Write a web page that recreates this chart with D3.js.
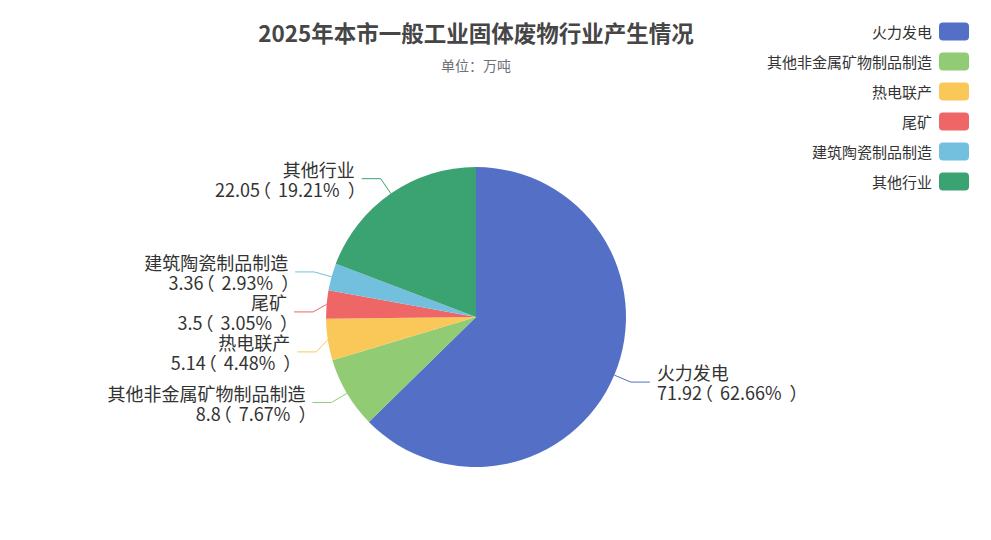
<!DOCTYPE html>
<html>
<head>
<meta charset="utf-8">
<script src="https://cdn.jsdelivr.net/npm/d3@7"></script>
<style>
  html, body { margin: 0; padding: 0; background: #fff; }
  svg { display: block; font-family: "Noto Sans CJK SC", "Noto Sans", sans-serif; }
</style>
</head>
<body>
<svg id="chart" width="991" height="540"></svg>
<script>
// ---- data ----
const titleText = "2025年本市一般工业固体废物行业产生情况";
const subtitleText = "单位：万吨";
const categories = ["火力发电", "其他非金属矿物制品制造", "热电联产", "尾矿", "建筑陶瓷制品制造", "其他行业"];
const values = [71.92, 8.8, 5.14, 3.5, 3.36, 22.05];
const palette = ["#5470c6", "#91cc75", "#fac858", "#ee6666", "#73c0de", "#3ba272"];

// ---- layout ----
const W = 991, H = 540;
const cx = 476, cy = 317, R = 150;
const len1 = 18, len2 = 19, textGap = 7, minGap = 40;
const labelR = 187;           // circle used to re-place shifted labels
const FONT = "'Noto Sans CJK SC', 'Noto Sans', sans-serif";
const LFS = 18;

const svg = d3.select("#chart");
const color = d3.scaleOrdinal().domain(categories).range(palette);
const total = d3.sum(values);
const data = categories.map((c, i) => ({ name: c, value: values[i], pct: (values[i] / total * 100).toFixed(2) }));

// glyph metrics of the full-width brackets (to space them evenly)
const ctx = document.createElement("canvas").getContext("2d");
ctx.font = `${LFS}px ${FONT}`;
function ink(ch) {
  const m = ctx.measureText(ch);
  return { l: -m.actualBoundingBoxLeft, r: m.actualBoundingBoxRight, adv: m.width };
}
const po = ink("（"), pc = ink("）");
const dxOpen = 5 - po.l;
const dxPct = 7 - (po.adv - po.r);
const dxClose = 8 - pc.l;
const trailClose = pc.adv - pc.r;

// title
svg.append("text").attr("x", cx).attr("y", 32).attr("text-anchor", "middle")
  .attr("dominant-baseline", "central").attr("font-size", 22.5).attr("font-weight", "bold")
  .attr("fill", "#464646").text(titleText);
svg.append("text").attr("x", cx).attr("y", 65).attr("text-anchor", "middle")
  .attr("dominant-baseline", "central").attr("font-size", 14)
  .attr("fill", "#6e7079").text(subtitleText);

// pie
const pie = d3.pie().value(d => d.value).sort(null);
const arcs = pie(data);
const arc = d3.arc().innerRadius(0).outerRadius(R);
const edgeArc = d3.arc().innerRadius(R).outerRadius(R);
const outArc = d3.arc().innerRadius(R + len1).outerRadius(R + len1);

const g = svg.append("g").attr("transform", `translate(${cx},${cy})`);
g.selectAll("path.slice").data(arcs).join("path")
  .attr("class", "slice")
  .attr("d", arc)
  .attr("fill", d => color(d.data.name));

// label layout
const labels = arcs.map(d => {
  const s = edgeArc.centroid(d);
  const b = outArc.centroid(d);
  const mid = (d.startAngle + d.endAngle) / 2;
  const right = Math.sin(mid) >= 0;
  return { d, start: s, bend: [b[0], b[1]], y: b[1], right, shifted: false };
});
[true, false].forEach(side => {
  const group = labels.filter(l => l.right === side).sort((a, b) => a.y - b.y);
  for (let i = 1; i < group.length; i++) {
    if (group[i].y - group[i - 1].y < minGap) { group[i].y = group[i - 1].y + minGap; group[i].shifted = true; }
  }
});
labels.forEach(l => {
  const sgn = l.right ? 1 : -1;
  if (l.shifted) {
    const dx = Math.sqrt(Math.max(labelR * labelR - l.y * l.y, 0)) + 2;
    l.tx = sgn * dx;
    l.end = [l.tx - sgn * textGap, l.y];
    l.bend = [l.end[0] - sgn * len2, l.y];
  } else {
    l.bend[1] = l.y;
    l.end = [l.bend[0] + sgn * len2, l.y];
    l.tx = l.end[0] + sgn * textGap;
  }
});

g.selectAll("polyline.lline").data(labels).join("polyline")
  .attr("class", "lline")
  .attr("points", l => [l.start, l.bend, l.end].map(p => p.join(",")).join(" "))
  .attr("fill", "none")
  .attr("stroke", l => color(l.d.data.name))
  .attr("stroke-width", 1);

function line2Text(l) { return `${l.d.data.value}（${l.d.data.pct}%）`; }
function line2Dx(l) {
  const chars = Array.from(line2Text(l));
  return chars.map((ch, i) => ch === "（" ? dxOpen
    : (i > 0 && chars[i - 1] === "（") ? dxPct
    : ch === "）" ? dxClose : 0).map(v => v.toFixed(2)).join(" ");
}

const lt = g.selectAll("text.lbl").data(labels).join("text")
  .attr("class", "lbl")
  .attr("font-size", LFS)
  .attr("fill", "#333")
  .attr("text-anchor", l => l.right ? "start" : "end");
lt.append("tspan").attr("x", l => l.tx).attr("y", l => l.y - 10)
  .attr("dominant-baseline", "central").text(l => l.d.data.name);
lt.append("tspan").attr("x", l => l.right ? l.tx : l.tx + trailClose - 1)
  .attr("y", l => l.y + 10).attr("dominant-baseline", "central")
  .attr("dx", line2Dx)
  .text(line2Text);

// legend
const ly = d3.scalePoint().domain(categories).range([31.5, 181.5]);
const legend = svg.append("g");
const item = legend.selectAll("g").data(categories).join("g")
  .attr("transform", c => `translate(0,${ly(c)})`);
item.append("rect").attr("x", 939).attr("y", -9).attr("width", 30).attr("height", 18)
  .attr("rx", 4).attr("fill", c => color(c));
item.append("text").attr("x", 932).attr("y", 0).attr("text-anchor", "end")
  .attr("dominant-baseline", "central").attr("font-size", 15).attr("fill", "#333")
  .text(c => c);
</script>
</body>
</html>
